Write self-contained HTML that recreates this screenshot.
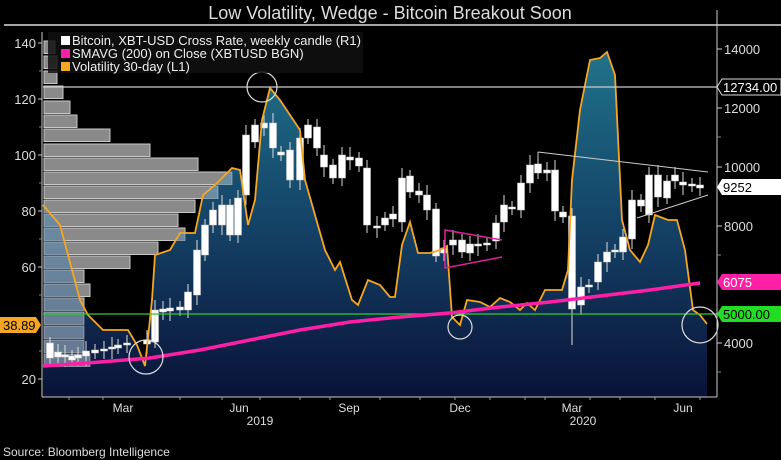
<!DOCTYPE html>
<html><head><meta charset="utf-8"><style>
body{margin:0;background:#000;width:781px;height:460px;overflow:hidden;font-family:"Liberation Sans",sans-serif}
svg{display:block}
</style></head><body>
<svg id="s" width="781" height="460" xmlns="http://www.w3.org/2000/svg" font-family="Liberation Sans, sans-serif">
<defs>
<linearGradient id="g" gradientUnits="userSpaceOnUse" x1="0" y1="60" x2="0" y2="397">
<stop offset="0" stop-color="#1f7088"/><stop offset="0.45" stop-color="#15466a"/><stop offset="1" stop-color="#0a1238"/></linearGradient>
</defs>
<text x="390" y="19" fill="#ddd" font-size="18" text-anchor="middle">Low Volatility, Wedge - Bitcoin Breakout Soon</text>
<line x1="4" y1="25" x2="781" y2="25" stroke="#ddd" stroke-width="1.5"/>
<g id="plot"></g>
</svg>
<script>
const P=document.getElementById('plot');let h='';
const vol=[[43,205],[60,225],[80,300],[88,315],[103,330],[128,330],[137,345],[145,366],[152,300],[155,255],[170,250],[180,233],[195,233],[203,195],[215,185],[232,168],[240,170],[248,225],[255,200],[262,120],[270,88],[280,100],[300,130],[305,180],[325,250],[335,270],[340,262],[352,300],[358,305],[368,280],[380,285],[390,297],[395,297],[402,245],[410,222],[418,253],[430,253],[440,250],[447,246],[452,317],[460,325],[467,300],[480,302],[490,307],[500,298],[510,302],[520,310],[527,303],[535,310],[545,290],[562,290],[568,270],[572,180],[580,110],[590,60],[600,58],[607,52],[615,75],[622,220],[630,250],[640,262],[648,245],[655,215],[668,220],[677,220],[685,250],[693,310],[700,315],[707,324]];
const pts=vol.map(p=>p.join(',')).join(' ');
h+=`<clipPath id="cp"><polygon points="43,397 ${pts} 707,397"/></clipPath>`;
const bars=[[40,55],[55,57],[70,57],[85,63],[100,70],[114,77],[128,110],[143,150],[157,198],[171,232],[185,218],[199,195],[213,178],[227,185],[241,158],[255,130],[269,84],[283,90],[297,84],[311,84],[325,84],[339,84],[353,90]];
for(const[y,w]of bars)h+=`<rect x="44" y="${y+1}" width="${w-44}" height="12.5" fill="#8a8a8a" stroke="#c8c8c8" stroke-width="1"/>`;
h+=`<polygon points="43,397 ${pts} 707,397" fill="url(#g)"/><g clip-path="url(#cp)">`;
for(const[y,w]of bars)h+=`<rect x="44" y="${y+1}" width="${w-44}" height="12.5" fill="#b0c4d4" fill-opacity="0.55" stroke="#d0d0d0" stroke-opacity="0.5" stroke-width="1"/>`;
h+=`</g>`;
const c=[[50,343,358],[58,352,357],[65,355,357],[72,356,360],[78,355,358],[86,351,356],[95,350,353],[104,349,351],[112,347,349],[118,345,348],[127,343,345],[147,340,344],[155,310,342],[163,309,312],[170,308,311],[180,307,310],[188,292,310],[197,250,295],[205,225,255],[213,210,225],[222,205,225],[230,205,235],[238,198,235],[246,135,195],[255,125,142],[264,123,128],[273,123,148],[281,152,155],[290,150,180],[300,138,180],[308,125,138],[317,127,148],[324,155,167],[333,165,178],[342,155,178],[350,157,160],[359,158,166],[367,168,225],[377,226,228],[385,218,225],[393,214,219],[402,178,222],[410,176,192],[419,191,195],[427,195,210],[436,209,256],[444,248,253],[453,240,245],[462,240,252],[470,244,253],[478,244,246],[487,243,245],[496,223,241],[504,205,222],[512,207,209],[521,183,210],[530,165,183],[538,164,173],[547,170,173],[555,170,211],[563,212,217],[572,216,309],[581,287,305],[589,285,287],[598,262,282],[607,252,262],[615,250,252],[623,237,252],[632,200,239],[641,200,206],[649,175,215],[658,175,197],[667,181,198],[675,175,181],[683,182,185],[692,184,186],[700,185,188]];
c.forEach(([x,a,b],i)=>{const k=6+(i%3)*2;h+=`<line x1="${x}" y1="${a-k}" x2="${x}" y2="${b+k}" stroke="#ddd" stroke-width="1"/><rect x="${x-3.5}" y="${a}" width="7" height="${Math.max(b-a,1.5)}" fill="#fff" stroke="#ccc" stroke-width="0.5"/>`;});
h+=`<line x1="572" y1="300" x2="572" y2="345" stroke="#ddd"/><line x1="155" y1="340" x2="155" y2="300" stroke="#ddd"/>`;
h+=`<polyline points="${pts}" fill="none" stroke="#f5a623" stroke-width="1.8"/>`;
h+=`<line x1="43" y1="87" x2="717" y2="87" stroke="#ccc" stroke-width="1.3"/><line x1="43" y1="314" x2="717" y2="314" stroke="#2ecc2e" stroke-width="1.3"/>`;
h+=`<polyline points="43,366 100,362 150,358 200,350 250,340 300,330 350,322 400,317 450,313 500,307 550,302 600,296 650,290 700,283" fill="none" stroke="#ff1fa6" stroke-width="3.5"/>`;
h+=`<polyline points="538,152 708,172" stroke="#ccc" fill="none"/><line x1="538" y1="152" x2="538" y2="158" stroke="#ccc"/><line x1="637" y1="218" x2="708" y2="195" stroke="#ccc"/>`;
h+=`<polyline points="502,240 445,230 445,268 502,257" fill="none" stroke="#e0209a" stroke-width="1.5"/>`;
for(const[x,y,r]of[[262,87,15],[146,357,17],[460,327,12],[700,325,18]])h+=`<circle cx="${x}" cy="${y}" r="${r}" fill="none" stroke="#ddd" stroke-width="1.2"/>`;
h+=`<line x1="42" y1="32" x2="42" y2="397" stroke="#ccc"/><line x1="717" y1="10" x2="717" y2="397" stroke="#ccc"/><line x1="42" y1="397" x2="717" y2="397" stroke="#ccc"/>`;
for(const[v,y]of[[140,43],[120,99],[100,155],[80,211],[60,267],[20,379]])h+=`<line x1="38" y1="${y}" x2="42" y2="${y}" stroke="#ccc"/><text x="36" y="${y+5}" fill="#ddd" font-size="13" text-anchor="end">${v}</text>`;
for(const y of[71,127,183,239,295,351])h+=`<line x1="39" y1="${y}" x2="42" y2="${y}" stroke="#888"/>`;
for(const[v,y]of[[14000,49],[12000,108],[10000,167],[8000,226],[4000,343]])h+=`<line x1="717" y1="${y}" x2="722" y2="${y}" stroke="#ccc"/><text x="724" y="${y+5}" fill="#ddd" font-size="13">${v}</text>`;
for(const y of[137,255,372])h+=`<line x1="717" y1="${y}" x2="721" y2="${y}" stroke="#888"/>`;
h+=`<path d="M717,87 l5,-8 h59 v16 h-59z" fill="#000" stroke="#ddd"/><text x="723" y="92" fill="#fff" font-size="13">12734.00</text>`;
h+=`<path d="M717,187 l5,-8 h59 v16 h-59z" fill="#fff"/><text x="723" y="192" fill="#000" font-size="13">9252</text>`;
h+=`<path d="M717,282 l5,-8 h59 v16 h-59z" fill="#ff1fa6"/><text x="723" y="287" fill="#fff" font-size="13">6075</text>`;
h+=`<path d="M717,314 l5,-8 h59 v16 h-59z" fill="#22dd22"/><text x="723" y="319" fill="#000" font-size="13">5000.00</text>`;
h+=`<path d="M0,317 h36 l5,8 l-5,8 h-36z" fill="#f5a623"/><text x="3" y="330" fill="#000" font-size="13">38.89</text>`;
for(const x of[69,103,180,222,260,300,330,380,420,455,490,525,545,590,620,655,700])h+=`<line x1="${x}" y1="397" x2="${x}" y2="400" stroke="#999"/>`;
for(const[t,x]of[["Mar",123],["Jun",239],["Sep",349],["Dec",460],["Mar",572],["Jun",683]])h+=`<text x="${x}" y="412" fill="#ddd" font-size="12" text-anchor="middle">${t}</text>`;
h+=`<text x="260" y="425" fill="#ddd" font-size="12" text-anchor="middle">2019</text><text x="583" y="425" fill="#ddd" font-size="12" text-anchor="middle">2020</text>`;
h+=`<text x="3" y="456" fill="#ddd" font-size="12">Source: Bloomberg Intelligence</text>`;
h+=`<rect x="48" y="32" width="315" height="41" fill="#111" fill-opacity="0.85"/>`;
h+=`<rect x="61" y="36" width="9" height="9" fill="#fff"/><text x="72" y="45" fill="#eee" font-size="13">Bitcoin, XBT-USD Cross Rate, weekly candle (R1)</text>`;
h+=`<rect x="61" y="49" width="9" height="9" fill="#ff1fa6"/><text x="72" y="58" fill="#eee" font-size="13">SMAVG (200)  on Close (XBTUSD BGN)</text>`;
h+=`<rect x="61" y="62" width="9" height="9" fill="#f5a623"/><text x="72" y="71" fill="#eee" font-size="13">Volatility 30-day (L1)</text>`;
P.innerHTML=h;
</script>
</body></html>
